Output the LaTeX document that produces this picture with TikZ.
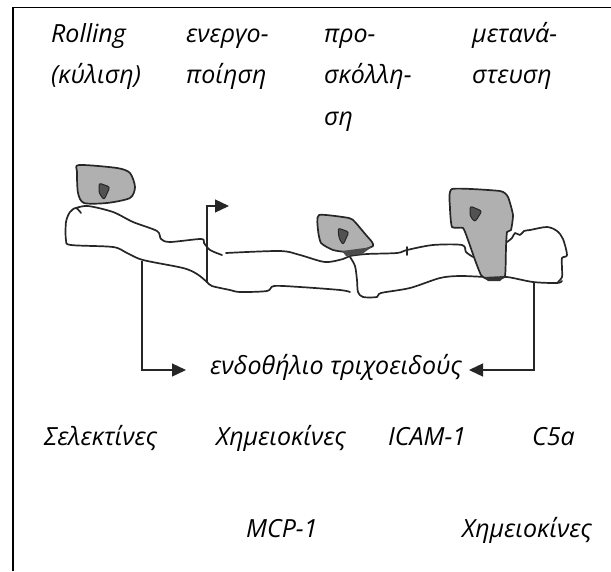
\documentclass[tikz,border=0pt]{standalone}
\usepackage{fontspec}
\setmainfont{Open Sans}
\usetikzlibrary{arrows.meta}
\begin{document}
\begin{tikzpicture}[x=1pt,y=-1pt,
  outline/.style={line width=1.7pt, draw=black!85, line cap=round, line join=round},
  leuko/.style={outline, fill=black!31},
  nucleus/.style={line width=1pt, draw=black!85, fill=black!68, line join=round, rounded corners=2.5pt},
  lbl/.style={anchor=base west, inner sep=0pt, font=\fontsize{25}{41.5}\selectfont\itshape, align=left},
  pointer/.style={line width=1.3pt, draw=black!85, -{Triangle[length=14pt,width=13pt]}}]
\useasboundingbox (0,0) rectangle (611,571);
% frame
\draw[line width=1.8pt] (13,571) -- (13,7.5) -- (611,7.5);

% stage headings (anchored at the baseline of their last line)
\node[lbl] (roll) at (51,83.5) {Rolling\\(κύλιση)};
\node[lbl] (act)  at (186,83.5) {ενεργο-\\ποίηση};
\node[lbl] (adh)  at (324,125) {προ-\\σκόλλη-\\ση};
\node[lbl] (mig)  at (472,83.5) {μετανά-\\στευση};

% capillary wall: left endothelial cell
\draw[outline] plot[smooth, tension=0.5] coordinates {
  (81,213) (76,208) (70,212) (66,222) (66,240) (71,245) (113,247) (127,253)
  (143,260) (183,268) (197,274) (207,282) (212,286) (230,290) (240,292)
  (267,291) (274,286) (300,287) (340,290) (350,292)};
\draw[outline] plot[smooth, tension=0.5] coordinates {
  (76,208) (88,206) (113,212) (133,222) (157,231) (161,239) (170,242)
  (201,239) (204,243) (210,250) (222,255)};
% upper wall, middle and right part
\draw[outline] plot[smooth, tension=0.5] coordinates {
  (226,253) (280,251) (300,255) (325,262) (343,259) (350,256) (367,254)
  (397,253) (407,250) (433,245) (462,245) (466,252) (473,257)};
\draw[outline] (407,247) -- (407,255);
% cell border and lower wall, right part
\draw[outline] plot[smooth, tension=0.5] coordinates {
  (350,257) (355,266) (357,280) (358,292) (363,297) (377,297) (381,293)
  (410,288) (440,278) (460,276) (487,277) (507,277) (533,282) (557,283) (562,281)};
% right endothelial cell
\draw[outline] plot[smooth, tension=0.5] coordinates {
  (507,242) (512,238) (515,233) (520,235) (524,231) (530,230) (547,227)
  (557,231) (563,239) (567,255) (562,258) (562,268) (562,277) (558,282)};

% leukocytes
\draw[leuko] plot[smooth cycle, tension=0.45] coordinates {
  (79,165) (117,168) (130,173) (135,187) (130,198) (107,203) (84,203) (78,193) (77,172)};
\draw[nucleus] (99,183) -- (110,187) -- (104,200) -- (99,193) -- cycle;

\draw[leuko] plot[smooth cycle, tension=0.35] coordinates {
  (319,215) (349,218) (355,222) (366,235) (372,242) (373,246) (363,250)
  (347,252) (333,250) (321,243) (318,230)};
\fill[black!70] (342,251) -- (372,247) -- (362,254) -- (346,256) -- cycle;
\draw[nucleus] (338,228) -- (349,232) -- (343,245) -- (339,238) -- cycle;

\draw[leuko] plot[smooth cycle, tension=0.3] coordinates {
  (452,189) (500,191) (508,197) (513,215) (511,230) (507,232) (506,247)
  (505,276) (497,279) (487,279) (481,275) (475,260) (468,240) (463,228)
  (452,227) (450,208)};
\fill[black!80] (484,277) -- (505,276) -- (500,281) -- (488,281) -- cycle;
\draw[nucleus] (470,206) -- (482,211) -- (475,222) -- (470,216) -- cycle;

% activation signal
\coordinate (flagfoot) at (207,283);
\coordinate (flagtip) at (229,206);
\draw[pointer] (flagfoot) |- (flagtip);

% endothelium label with its two pointers
\node[lbl] (endo) at (210,374) {ενδοθήλιο τριχοειδούς};
\coordinate (selfoot) at (142,261);
\coordinate (c5foot) at (534,283);
\coordinate (ltip) at (186,370);
\coordinate (rtip) at (469,370);
\draw[pointer] (selfoot) |- (ltip);
\draw[pointer] (c5foot) |- (rtip);

% mediators
\node[lbl] (sel)  at (44,445)  {Σελεκτίνες};
\node[lbl] (chem) at (216,445) {Χημειοκίνες};
\node[lbl] (icam) at (388,445) {ICAM-1};
\node[lbl] (c5a)  at (532,445) {C5a};
\node[lbl] (mcp)  at (246,537) {MCP-1};
\node[lbl] (chem2) at (462,537) {Χημειοκίνες};
\end{tikzpicture}
\end{document}
